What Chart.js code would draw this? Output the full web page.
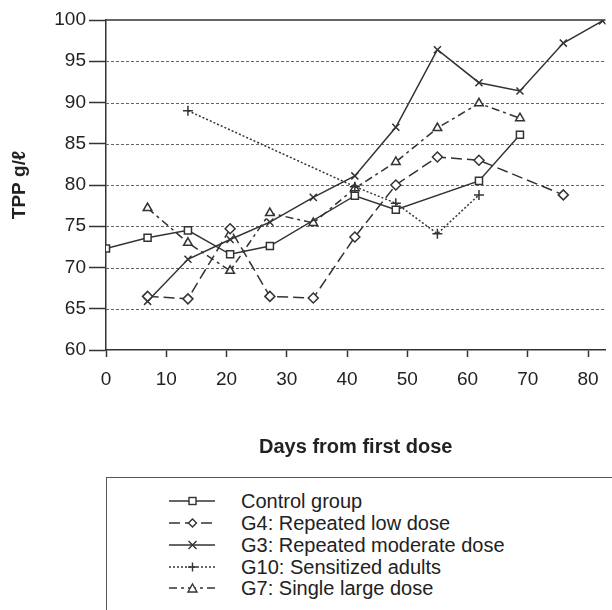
<!DOCTYPE html>
<html>
<head>
<meta charset="utf-8">
<script src="https://cdn.jsdelivr.net/npm/chart.js@4.4.0/dist/chart.umd.min.js"></script>
<style>
  body { margin: 0; width: 612px; height: 610px; overflow: hidden; background: #fff; position: relative;
         font-family: "Liberation Sans", Arial, sans-serif; color: #222; }
  #wrap { position: absolute; left: 0; top: 0; width: 612px; height: 470px; }
  #legend { position: absolute; left: 106px; top: 477px; width: 600px; height: 160px;
            border: 1.5px solid #555; box-sizing: border-box; }
  .row { position: absolute; left: 0; height: 22px; line-height: 22px; font-size: 20px; white-space: nowrap; }
  .row svg { position: absolute; left: 62px; top: 5px; }
  .row span { position: absolute; left: 134px; top: 0; }
</style>
</head>
<body>
<div id="wrap"><canvas id="chart"></canvas></div>
<div id="legend"></div>
<script>
// sampling days (x) and TPP values, null = no reading that day
const days = [0, 6.9, 13.6, 20.6, 27.2, 34.4, 41.3, 48.1, 55, 61.9, 68.7, 75.9, 82.4];
const control = [72.3, 73.6, 74.5, 71.6, 72.6, null, 78.7, 77.0, null, 80.5, 86.1, null, null];
const g4 = [null, 66.5, 66.2, 74.7, 66.5, 66.3, 73.7, 80.0, 83.4, 83.0, null, 78.8, null];
const g3 = [null, 65.9, 71.0, 73.4, 75.5, 78.5, 81.1, 87.0, 96.4, 92.4, 91.4, 97.2, 99.9];
const g10 = [null, null, 89.0, null, null, null, 79.8, 77.8, 74.1, 78.8, null, null, null];
const g7 = [null, 77.2, 73.0, 69.6, 76.6, 75.4, 79.6, 82.8, 86.9, 89.9, 88.1, null, null];

const names = ["Control group", "G4: Repeated low dose", "G3: Repeated moderate dose",
               "G10: Sensitized adults", "G7: Single large dose"];
const xTicks = [0, 10, 20, 30, 40, 50, 60, 70, 80];
const yTicks = [60, 65, 70, 75, 80, 85, 90, 95, 100];

const ink = "#333";
const styles = [
  { dash: [], point: "rect", r: 5 },
  { dash: [11, 5], point: "rectRot", r: 5 },
  { dash: [], point: "crossRot", r: 5 },
  { dash: [2, 2], point: "cross", r: 5 },
  { dash: [8, 4, 3, 4], point: "triangle", r: 5 }
];
const series = [control, g4, g3, g10, g7];

function toPoints(vals) {
  return days.map((d, i) => ({ x: d, y: vals[i] })).filter(p => p.y !== null);
}

const datasets = series.map((vals, i) => ({
  label: names[i],
  data: toPoints(vals),
  borderColor: ink,
  borderWidth: 1.5,
  borderDash: styles[i].dash,
  pointStyle: styles[i].point,
  pointRadius: styles[i].r,
  pointBorderWidth: 1.5,
  pointBorderColor: ink,
  pointBackgroundColor: "#fff",
  tension: 0
}));

// dotted horizontal grid and a solid frame line at the top (value 100)
const frame = {
  id: "frame",
  beforeDatasetsDraw(chart) {
    const { ctx, chartArea, scales } = chart;
    ctx.save();
    ctx.strokeStyle = "#666";
    ctx.lineWidth = 1;
    ctx.setLineDash([3, 2]);
    yTicks.slice(1, -1).forEach(v => {
      const y = Math.round(scales.y.getPixelForValue(v)) + 0.5;
      ctx.beginPath();
      ctx.moveTo(chartArea.left, y);
      ctx.lineTo(chartArea.right, y);
      ctx.stroke();
    });
    ctx.setLineDash([]);
    ctx.strokeStyle = ink;
    ctx.lineWidth = 1.5;
    const top = scales.y.getPixelForValue(yTicks[yTicks.length - 1]);
    ctx.beginPath();
    ctx.moveTo(chartArea.left, top);
    ctx.lineTo(chartArea.right, top);
    ctx.stroke();
    ctx.restore();
  }
};

new Chart(document.getElementById("chart"), {
  type: "line",
  data: { datasets },
  plugins: [frame],
  options: {
    responsive: true,
    maintainAspectRatio: false,
    animation: false,
    layout: { padding: { top: 20, right: 0, left: 0, bottom: 0 } },
    plugins: { legend: { display: false }, tooltip: { enabled: false } },
    scales: {
      x: {
        type: "linear",
        min: 0,
        max: 82.9,
        afterBuildTicks: s => { s.ticks = xTicks.map(v => ({ value: v })); },
        afterFit: s => { s.height = 120; },
        grid: { drawOnChartArea: false, drawTicks: true, tickLength: 7, tickColor: ink, tickWidth: 1.5 },
        border: { color: ink, width: 1.5 },
        ticks: { color: "#222", padding: 11, maxRotation: 0, font: { family: "Liberation Sans", size: 19 } },
        title: { display: true, text: "Days from first dose", color: "#222", padding: { top: 4, bottom: 11 },
                 font: { family: "Liberation Sans", size: 20, weight: "bold" } }
      },
      y: {
        min: 60,
        max: 100,
        afterBuildTicks: s => { s.ticks = yTicks.map(v => ({ value: v })); },
        afterFit: s => { s.width = 106; },
        grid: { drawOnChartArea: false, drawTicks: true, tickLength: 17, tickColor: ink, tickWidth: 1.5 },
        border: { color: ink, width: 1.5 },
        ticks: { color: "#222", padding: 3, font: { family: "Liberation Sans", size: 19 } },
        title: { display: true, text: "TPP g/ℓ", color: "#222", padding: { top: 8, bottom: 4 },
                 font: { family: "Liberation Sans", size: 19, weight: "bold" } }
      }
    }
  }
});

// legend in a framed box below the plot
const rowTops = [500, 522, 544, 566, 587];
const legend = document.getElementById("legend");
function markerSvg(kind) {
  const c = 'stroke="' + ink + '" stroke-width="1.4" fill="#fff"';
  if (kind === "rect") return '<rect x="20" y="2.5" width="7" height="7" ' + c + '/>';
  if (kind === "rectRot") return '<path d="M23.5 2 L27.5 6 L23.5 10 L19.5 6 Z" ' + c + '/>';
  if (kind === "crossRot") return '<path d="M19.5 2 L27.5 10 M27.5 2 L19.5 10" ' + c + '/>';
  if (kind === "cross") return '<path d="M23.5 1.5 L23.5 10.5 M19 6 L28 6" ' + c + '/>';
  return '<path d="M23.5 2 L28 10 L19 10 Z" ' + c + '/>';
}
styles.forEach((st, i) => {
  const row = document.createElement("div");
  row.className = "row";
  row.style.top = (rowTops[i] - 477 - 11) + "px";
  const dash = st.dash.length ? ' stroke-dasharray="' + st.dash.join(" ") + '"' : "";
  row.innerHTML = '<svg width="48" height="12"><line x1="0" y1="6" x2="46" y2="6" stroke="' + ink +
    '" stroke-width="1.4"' + dash + '/>' + markerSvg(st.point) + '</svg><span>' + names[i] + '</span>';
  legend.appendChild(row);
});
</script>
</body>
</html>
